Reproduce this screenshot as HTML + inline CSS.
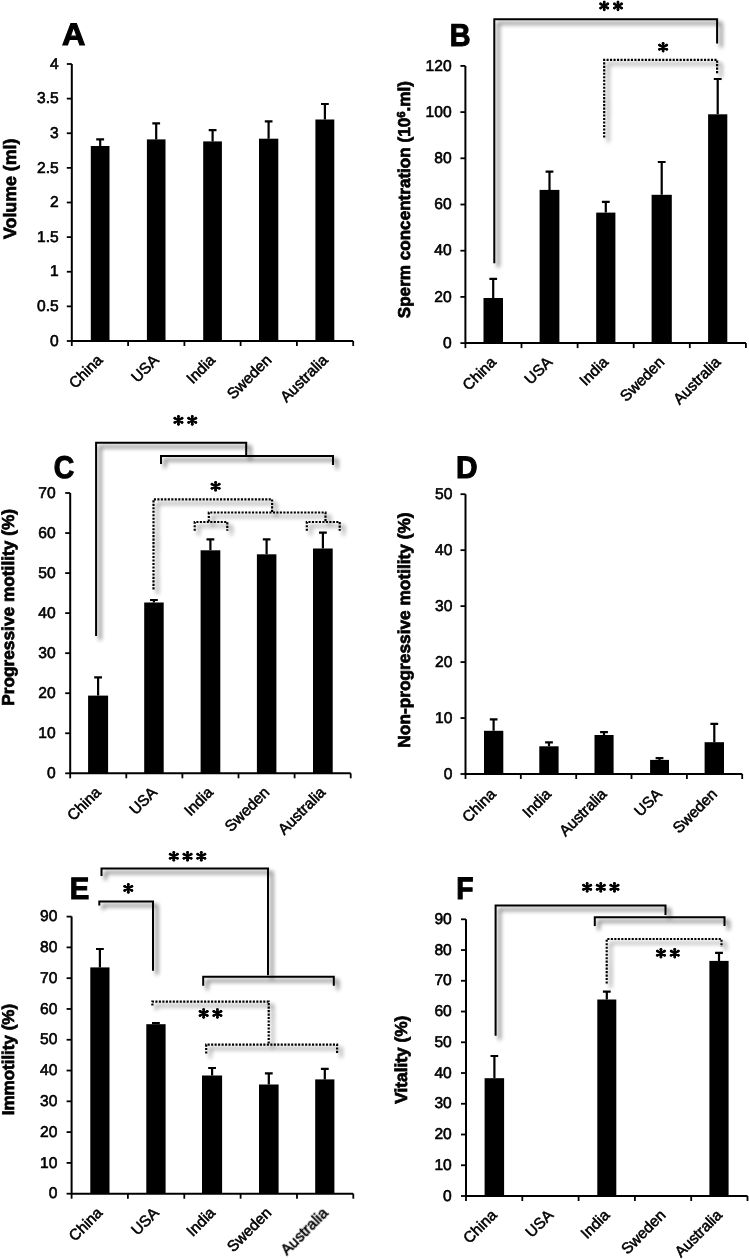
<!DOCTYPE html>
<html><head><meta charset="utf-8"><title>Semen parameters</title>
<style>
html,body{margin:0;padding:0;background:#fff;}
body{width:749px;height:1259px;overflow:hidden;}
svg{display:block;}
text{font-family:"Liberation Sans",sans-serif;fill:#000;text-rendering:geometricPrecision;}
.tl{font-size:15.6px;text-anchor:end;stroke:#000;stroke-width:0.6px;}
.cl{font-size:15.3px;text-anchor:end;stroke:#000;stroke-width:0.55px;}
.tt{font-size:17.3px;font-weight:bold;text-anchor:middle;stroke:#000;stroke-width:0.7px;}
.lt{font-size:31.2px;font-weight:bold;stroke:#000;stroke-width:1.1px;}
.ax{fill:none;stroke:#000;stroke-width:2.0;}
.tk{fill:none;stroke:#000;stroke-width:1.8;}
.bar{fill:#000;}
.eb{fill:none;stroke:#000;stroke-width:2.2;}
.bs{fill:none;stroke:#000;stroke-width:2.0;}
.bd{fill:none;stroke:#000;stroke-width:2.2;stroke-dasharray:2.1 1.38;}
.st{fill:none;stroke:#000;stroke-width:2.4;stroke-linecap:round;}
.sc{fill:#000;}
</style></head>
<body>
<svg width="749" height="1259" viewBox="0 0 749 1259">
<defs>
<filter id="sh" filterUnits="userSpaceOnUse" x="0" y="0" width="749" height="1259">
<feGaussianBlur in="SourceAlpha" stdDeviation="2.1" result="b"/>
<feOffset in="b" dx="3.8" dy="3.8" result="o"/>
<feComponentTransfer in="o" result="o2"><feFuncA type="linear" slope="0.68"/></feComponentTransfer>
<feMerge><feMergeNode in="o2"/><feMergeNode in="SourceGraphic"/></feMerge>
</filter>
<filter id="soft" x="0" y="0" width="100%" height="100%"><feGaussianBlur stdDeviation="0.35"/></filter>
</defs>
<g filter="url(#soft)">
<rect width="749" height="1259" fill="#fff"/>
<path d="M71.8,64 V341 H353.2" class="ax"/>
<path d="M66.8,341.0 H71.8" class="tk"/>
<text x="58.7" y="345.6" class="tl">0</text>
<path d="M66.8,306.375 H71.8" class="tk"/>
<text x="58.7" y="311.0" class="tl">0.5</text>
<path d="M66.8,271.75 H71.8" class="tk"/>
<text x="58.7" y="276.4" class="tl">1</text>
<path d="M66.8,237.125 H71.8" class="tk"/>
<text x="58.7" y="241.7" class="tl">1.5</text>
<path d="M66.8,202.5 H71.8" class="tk"/>
<text x="58.7" y="207.1" class="tl">2</text>
<path d="M66.8,167.875 H71.8" class="tk"/>
<text x="58.7" y="172.5" class="tl">2.5</text>
<path d="M66.8,133.25 H71.8" class="tk"/>
<text x="58.7" y="137.8" class="tl">3</text>
<path d="M66.8,98.625 H71.8" class="tk"/>
<text x="58.7" y="103.2" class="tl">3.5</text>
<path d="M66.8,64.0 H71.8" class="tk"/>
<text x="58.7" y="68.6" class="tl">4</text>
<path d="M71.8,341 V346" class="tk"/>
<path d="M128.1,341 V346" class="tk"/>
<path d="M184.4,341 V346" class="tk"/>
<path d="M240.6,341 V346" class="tk"/>
<path d="M296.9,341 V346" class="tk"/>
<path d="M353.2,341 V346" class="tk"/>
<rect x="90.8" y="146" width="18.7" height="195.0" class="bar"/>
<path d="M100.2,146 V139.4 M96.2,139.4 H104.1" class="eb"/>
<rect x="146.9" y="139.4" width="18.6" height="201.6" class="bar"/>
<path d="M156.2,139.4 V123.4 M152.3,123.4 H160.1" class="eb"/>
<rect x="203.2" y="141.4" width="18.7" height="199.6" class="bar"/>
<path d="M212.6,141.4 V130.2 M208.7,130.2 H216.5" class="eb"/>
<rect x="259" y="138.7" width="19.3" height="202.3" class="bar"/>
<path d="M268.6,138.7 V121.4 M264.8,121.4 H272.5" class="eb"/>
<rect x="315.4" y="119.5" width="18.9" height="221.5" class="bar"/>
<path d="M324.9,119.5 V104 M321.0,104 H328.8" class="eb"/>
<text x="103.5" y="361.0" class="cl" transform="rotate(-45 103.5 361.0)">China</text>
<text x="159.8" y="361.0" class="cl" transform="rotate(-45 159.8 361.0)">USA</text>
<text x="216.1" y="361.0" class="cl" transform="rotate(-45 216.1 361.0)">India</text>
<text x="272.4" y="361.0" class="cl" transform="rotate(-45 272.4 361.0)">Sweden</text>
<text x="328.7" y="361.0" class="cl" transform="rotate(-45 328.7 361.0)">Australia</text>
<text x="15.9" y="188.8" class="tt" style="font-size:17.8px" transform="rotate(-90 15.9 188.8)">Volume (ml)</text>
<text x="0" y="0" class="lt" style="font-size:31.16px;stroke-width:1.1px" transform="translate(62.06 45.35) scale(1.037 1)">A</text>
<path d="M465.4,65.9 V343.1 H745.9" class="ax"/>
<path d="M460.4,343.1 H465.4" class="tk"/>
<text x="451.6" y="347.7" class="tl">0</text>
<path d="M460.4,296.90000000000003 H465.4" class="tk"/>
<text x="451.6" y="301.5" class="tl">20</text>
<path d="M460.4,250.70000000000002 H465.4" class="tk"/>
<text x="451.6" y="255.3" class="tl">40</text>
<path d="M460.4,204.5 H465.4" class="tk"/>
<text x="451.6" y="209.1" class="tl">60</text>
<path d="M460.4,158.3 H465.4" class="tk"/>
<text x="451.6" y="162.9" class="tl">80</text>
<path d="M460.4,112.09999999999997 H465.4" class="tk"/>
<text x="451.6" y="116.7" class="tl">100</text>
<path d="M460.4,65.89999999999998 H465.4" class="tk"/>
<text x="451.6" y="70.5" class="tl">120</text>
<path d="M465.4,343.1 V348.1" class="tk"/>
<path d="M521.5,343.1 V348.1" class="tk"/>
<path d="M577.6,343.1 V348.1" class="tk"/>
<path d="M633.7,343.1 V348.1" class="tk"/>
<path d="M689.8,343.1 V348.1" class="tk"/>
<path d="M745.9,343.1 V348.1" class="tk"/>
<rect x="483.5" y="298" width="19.5" height="45.1" class="bar"/>
<path d="M493.2,298 V278.8 M489.4,278.8 H497.1" class="eb"/>
<rect x="539.6" y="189.9" width="19.8" height="153.2" class="bar"/>
<path d="M549.5,189.9 V171.7 M545.6,171.7 H553.4" class="eb"/>
<rect x="596.2" y="212.6" width="19.2" height="130.5" class="bar"/>
<path d="M605.8,212.6 V201.9 M601.9,201.9 H609.7" class="eb"/>
<rect x="651.6" y="194.8" width="20.2" height="148.3" class="bar"/>
<path d="M661.7,194.8 V162 M657.8,162 H665.6" class="eb"/>
<rect x="708.1" y="114.3" width="19.2" height="228.8" class="bar"/>
<path d="M717.7,114.3 V79 M713.8,79 H721.6" class="eb"/>
<text x="497.1" y="363.1" class="cl" transform="rotate(-45 497.1 363.1)">China</text>
<text x="553.1" y="363.1" class="cl" transform="rotate(-45 553.1 363.1)">USA</text>
<text x="609.2" y="363.1" class="cl" transform="rotate(-45 609.2 363.1)">India</text>
<text x="665.4" y="363.1" class="cl" transform="rotate(-45 665.4 363.1)">Sweden</text>
<text x="721.5" y="363.1" class="cl" transform="rotate(-45 721.5 363.1)">Australia</text>
<text x="410.4" y="199.6" class="tt" style="font-size:17.1px" transform="rotate(-90 410.4 199.6)">Sperm concentration (10<tspan dy="-5.6" style="font-size:11.5px">6</tspan><tspan dy="5.6">.ml)</tspan></text>
<text x="0" y="0" class="lt" style="font-size:31.45px;stroke-width:1.1px" transform="translate(449.63 45.55) scale(0.917 1)">B</text>
<path d="M494.3,263.3 V19.2 H717.1 V43.6" class="bs" filter="url(#sh)"/>
<path d="M604.2,137.5 V59.8 H717.1 V73.2" class="bd" filter="url(#sh)"/>
<path d="M604.20,2.05 V9.85 M600.60,3.87 L607.80,8.03 M607.80,3.87 L600.60,8.03 " class="st"/>
<circle cx="604.20" cy="2.05" r="1.4" class="sc"/>
<circle cx="604.20" cy="9.85" r="1.4" class="sc"/>
<circle cx="607.80" cy="8.03" r="1.4" class="sc"/>
<circle cx="600.60" cy="8.03" r="1.4" class="sc"/>
<circle cx="600.60" cy="3.87" r="1.4" class="sc"/>
<circle cx="607.80" cy="3.87" r="1.4" class="sc"/>
<path d="M618.00,2.05 V9.85 M614.40,3.87 L621.60,8.03 M621.60,3.87 L614.40,8.03 " class="st"/>
<circle cx="618.00" cy="2.05" r="1.4" class="sc"/>
<circle cx="618.00" cy="9.85" r="1.4" class="sc"/>
<circle cx="621.60" cy="8.03" r="1.4" class="sc"/>
<circle cx="614.40" cy="8.03" r="1.4" class="sc"/>
<circle cx="614.40" cy="3.87" r="1.4" class="sc"/>
<circle cx="621.60" cy="3.87" r="1.4" class="sc"/>
<path d="M663.10,43.30 V51.10 M659.50,45.12 L666.70,49.28 M666.70,45.12 L659.50,49.28 " class="st"/>
<circle cx="663.10" cy="43.30" r="1.4" class="sc"/>
<circle cx="663.10" cy="51.10" r="1.4" class="sc"/>
<circle cx="666.70" cy="49.28" r="1.4" class="sc"/>
<circle cx="659.50" cy="49.28" r="1.4" class="sc"/>
<circle cx="659.50" cy="45.12" r="1.4" class="sc"/>
<circle cx="666.70" cy="45.12" r="1.4" class="sc"/>
<path d="M70.2,493 V773.3 H350.7" class="ax"/>
<path d="M65.2,773.3 H70.2" class="tk"/>
<text x="55.6" y="777.9" class="tl">0</text>
<path d="M65.2,733.2571428571429 H70.2" class="tk"/>
<text x="55.6" y="737.9" class="tl">10</text>
<path d="M65.2,693.2142857142857 H70.2" class="tk"/>
<text x="55.6" y="697.8" class="tl">20</text>
<path d="M65.2,653.1714285714286 H70.2" class="tk"/>
<text x="55.6" y="657.8" class="tl">30</text>
<path d="M65.2,613.1285714285714 H70.2" class="tk"/>
<text x="55.6" y="617.7" class="tl">40</text>
<path d="M65.2,573.0857142857143 H70.2" class="tk"/>
<text x="55.6" y="577.7" class="tl">50</text>
<path d="M65.2,533.0428571428572 H70.2" class="tk"/>
<text x="55.6" y="537.6" class="tl">60</text>
<path d="M65.2,493.0 H70.2" class="tk"/>
<text x="55.6" y="497.6" class="tl">70</text>
<path d="M70.2,773.3 V778.3" class="tk"/>
<path d="M126.3,773.3 V778.3" class="tk"/>
<path d="M182.4,773.3 V778.3" class="tk"/>
<path d="M238.5,773.3 V778.3" class="tk"/>
<path d="M294.6,773.3 V778.3" class="tk"/>
<path d="M350.7,773.3 V778.3" class="tk"/>
<rect x="88.1" y="695.6" width="20.0" height="77.7" class="bar"/>
<path d="M98.1,695.6 V677.4 M94.2,677.4 H102.0" class="eb"/>
<rect x="144.2" y="602.5" width="19.5" height="170.8" class="bar"/>
<path d="M153.9,602.5 V600 M150.0,600 H157.8" class="eb"/>
<rect x="200.6" y="550.3" width="19.7" height="223.0" class="bar"/>
<path d="M210.4,550.3 V539.4 M206.5,539.4 H214.3" class="eb"/>
<rect x="256.9" y="554.3" width="19.5" height="219.0" class="bar"/>
<path d="M266.6,554.3 V539.4 M262.8,539.4 H270.5" class="eb"/>
<rect x="313" y="548.5" width="19.7" height="224.8" class="bar"/>
<path d="M322.9,548.5 V532.7 M319.0,532.7 H326.8" class="eb"/>
<text x="101.8" y="793.3" class="cl" transform="rotate(-45 101.8 793.3)">China</text>
<text x="158.0" y="793.3" class="cl" transform="rotate(-45 158.0 793.3)">USA</text>
<text x="214.0" y="793.3" class="cl" transform="rotate(-45 214.0 793.3)">India</text>
<text x="270.2" y="793.3" class="cl" transform="rotate(-45 270.2 793.3)">Sweden</text>
<text x="326.3" y="793.3" class="cl" transform="rotate(-45 326.3 793.3)">Australia</text>
<text x="14.3" y="607.4" class="tt" transform="rotate(-90 14.3 607.4)">Progressive motility (%)</text>
<text x="0" y="0" class="lt" style="font-size:31.41px;stroke-width:1.1px" transform="translate(53.76 477.94) scale(0.904 1)">C</text>
<path d="M96.1,636 V442.7 H246.2 V456" class="bs" filter="url(#sh)"/>
<path d="M161,464 V456 H333 V465" class="bs" filter="url(#sh)"/>
<path d="M153.5,589.4 V499.3 H272.1 V512.5" class="bd" filter="url(#sh)"/>
<path d="M208.8,521.5 V512.5 H325.5 V521.5" class="bd" filter="url(#sh)"/>
<path d="M194.7,530.8 V522 H227.3 V530.8" class="bd" filter="url(#sh)"/>
<path d="M306.8,530.8 V522 H339.7 V530.8" class="bd" filter="url(#sh)"/>
<path d="M178.45,416.45 V424.25 M174.85,418.27 L182.05,422.43 M182.05,418.27 L174.85,422.43 " class="st"/>
<circle cx="178.45" cy="416.45" r="1.4" class="sc"/>
<circle cx="178.45" cy="424.25" r="1.4" class="sc"/>
<circle cx="182.05" cy="422.43" r="1.4" class="sc"/>
<circle cx="174.85" cy="422.43" r="1.4" class="sc"/>
<circle cx="174.85" cy="418.27" r="1.4" class="sc"/>
<circle cx="182.05" cy="418.27" r="1.4" class="sc"/>
<path d="M192.25,416.45 V424.25 M188.65,418.27 L195.85,422.43 M195.85,418.27 L188.65,422.43 " class="st"/>
<circle cx="192.25" cy="416.45" r="1.4" class="sc"/>
<circle cx="192.25" cy="424.25" r="1.4" class="sc"/>
<circle cx="195.85" cy="422.43" r="1.4" class="sc"/>
<circle cx="188.65" cy="422.43" r="1.4" class="sc"/>
<circle cx="188.65" cy="418.27" r="1.4" class="sc"/>
<circle cx="195.85" cy="418.27" r="1.4" class="sc"/>
<path d="M215.60,482.35 V490.15 M212.00,484.17 L219.20,488.33 M219.20,484.17 L212.00,488.33 " class="st"/>
<circle cx="215.60" cy="482.35" r="1.4" class="sc"/>
<circle cx="215.60" cy="490.15" r="1.4" class="sc"/>
<circle cx="219.20" cy="488.33" r="1.4" class="sc"/>
<circle cx="212.00" cy="488.33" r="1.4" class="sc"/>
<circle cx="212.00" cy="484.17" r="1.4" class="sc"/>
<circle cx="219.20" cy="484.17" r="1.4" class="sc"/>
<path d="M465.5,494.2 V774 H742.2" class="ax"/>
<path d="M460.5,774.0 H465.5" class="tk"/>
<text x="452.4" y="778.6" class="tl">0</text>
<path d="M460.5,718.04 H465.5" class="tk"/>
<text x="452.4" y="722.6" class="tl">10</text>
<path d="M460.5,662.0799999999999 H465.5" class="tk"/>
<text x="452.4" y="666.7" class="tl">20</text>
<path d="M460.5,606.12 H465.5" class="tk"/>
<text x="452.4" y="610.7" class="tl">30</text>
<path d="M460.5,550.16 H465.5" class="tk"/>
<text x="452.4" y="554.8" class="tl">40</text>
<path d="M460.5,494.2 H465.5" class="tk"/>
<text x="452.4" y="498.8" class="tl">50</text>
<path d="M465.5,774 V779" class="tk"/>
<path d="M520.8,774 V779" class="tk"/>
<path d="M576.2,774 V779" class="tk"/>
<path d="M631.5,774 V779" class="tk"/>
<path d="M686.9,774 V779" class="tk"/>
<path d="M742.2,774 V779" class="tk"/>
<rect x="484" y="730.8" width="19.3" height="43.2" class="bar"/>
<path d="M493.6,730.8 V719.3 M489.8,719.3 H497.5" class="eb"/>
<rect x="539.3" y="746.3" width="19.3" height="27.7" class="bar"/>
<path d="M549.0,746.3 V742.3 M545.1,742.3 H552.9" class="eb"/>
<rect x="594.5" y="735" width="19.1" height="39.0" class="bar"/>
<path d="M604.0,735 V732.1 M600.1,732.1 H607.9" class="eb"/>
<rect x="650.1" y="759.9" width="18.9" height="14.1" class="bar"/>
<path d="M659.5,759.9 V758.1 M655.6,758.1 H663.4" class="eb"/>
<rect x="704.6" y="742.2" width="19.4" height="31.8" class="bar"/>
<path d="M714.3,742.2 V723.8 M710.4,723.8 H718.2" class="eb"/>
<text x="496.8" y="795.0" class="cl" transform="rotate(-45 496.8 795.0)">China</text>
<text x="552.1" y="795.0" class="cl" transform="rotate(-45 552.1 795.0)">India</text>
<text x="607.5" y="795.0" class="cl" transform="rotate(-45 607.5 795.0)">Australia</text>
<text x="662.8" y="795.0" class="cl" transform="rotate(-45 662.8 795.0)">USA</text>
<text x="718.1" y="795.0" class="cl" transform="rotate(-45 718.1 795.0)">Sweden</text>
<text x="409.5" y="630" class="tt" transform="rotate(-90 409.5 630)">Non-progressive motility (%)</text>
<text x="0" y="0" class="lt" style="font-size:31.01px;stroke-width:1.1px" transform="translate(455.89 477.95) scale(0.962 1)">D</text>
<path d="M71.6,916.6 V1193.7 H353.3" class="ax"/>
<path d="M66.6,1193.7 H71.6" class="tk"/>
<text x="57.4" y="1198.3" class="tl">0</text>
<path d="M66.6,1162.911111111111 H71.6" class="tk"/>
<text x="57.4" y="1167.5" class="tl">10</text>
<path d="M66.6,1132.1222222222223 H71.6" class="tk"/>
<text x="57.4" y="1136.7" class="tl">20</text>
<path d="M66.6,1101.3333333333335 H71.6" class="tk"/>
<text x="57.4" y="1105.9" class="tl">30</text>
<path d="M66.6,1070.5444444444445 H71.6" class="tk"/>
<text x="57.4" y="1075.1" class="tl">40</text>
<path d="M66.6,1039.7555555555555 H71.6" class="tk"/>
<text x="57.4" y="1044.4" class="tl">50</text>
<path d="M66.6,1008.9666666666667 H71.6" class="tk"/>
<text x="57.4" y="1013.6" class="tl">60</text>
<path d="M66.6,978.1777777777778 H71.6" class="tk"/>
<text x="57.4" y="982.8" class="tl">70</text>
<path d="M66.6,947.3888888888889 H71.6" class="tk"/>
<text x="57.4" y="952.0" class="tl">80</text>
<path d="M66.6,916.6 H71.6" class="tk"/>
<text x="57.4" y="921.2" class="tl">90</text>
<path d="M71.6,1193.7 V1198.7" class="tk"/>
<path d="M127.9,1193.7 V1198.7" class="tk"/>
<path d="M184.3,1193.7 V1198.7" class="tk"/>
<path d="M240.6,1193.7 V1198.7" class="tk"/>
<path d="M297.0,1193.7 V1198.7" class="tk"/>
<path d="M353.3,1193.7 V1198.7" class="tk"/>
<rect x="90.3" y="967.4" width="19.2" height="226.3" class="bar"/>
<path d="M99.9,967.4 V949 M96.0,949 H103.8" class="eb"/>
<rect x="146.3" y="1024.2" width="19.3" height="169.5" class="bar"/>
<path d="M155.9,1024.2 V1023.2 M152.0,1023.2 H159.8" class="eb"/>
<rect x="202" y="1075.5" width="20.1" height="118.2" class="bar"/>
<path d="M212.1,1075.5 V1068 M208.2,1068 H216.0" class="eb"/>
<rect x="259" y="1084.5" width="19.6" height="109.2" class="bar"/>
<path d="M268.8,1084.5 V1073.4 M264.9,1073.4 H272.7" class="eb"/>
<rect x="315.2" y="1079.4" width="19.2" height="114.3" class="bar"/>
<path d="M324.8,1079.4 V1068.9 M320.9,1068.9 H328.7" class="eb"/>
<text x="103.4" y="1213.7" class="cl" transform="rotate(-45 103.4 1213.7)">China</text>
<text x="159.7" y="1213.7" class="cl" transform="rotate(-45 159.7 1213.7)">USA</text>
<text x="216.1" y="1213.7" class="cl" transform="rotate(-45 216.1 1213.7)">India</text>
<text x="272.4" y="1213.7" class="cl" transform="rotate(-45 272.4 1213.7)">Sweden</text>
<text x="328.7" y="1213.7" class="cl" transform="rotate(-45 328.7 1213.7)">Australia</text>
<text x="14.1" y="1059.6" class="tt" style="font-size:17.0px" transform="rotate(-90 14.1 1059.6)">Immotility (%)</text>
<text x="0" y="0" class="lt" style="font-size:30.72px;stroke-width:1.1px" transform="translate(69.82 898.75) scale(0.953 1)">E</text>
<path d="M101.5,876 V868.5 H268 V975.2" class="bs" filter="url(#sh)"/>
<path d="M203.2,985.7 V976.7 H333.8 V985.7" class="bs" filter="url(#sh)"/>
<path d="M99.3,905.4 V901.4 H153 V970.8" class="bs" filter="url(#sh)"/>
<path d="M152.4,1005.6 V1001.6 H268.7 V1044.6" class="bd" filter="url(#sh)"/>
<path d="M206.2,1053.6 V1044.6 H337.1 V1053.6" class="bd" filter="url(#sh)"/>
<path d="M173.80,852.35 V860.15 M170.20,854.17 L177.40,858.33 M177.40,854.17 L170.20,858.33 " class="st"/>
<circle cx="173.80" cy="852.35" r="1.4" class="sc"/>
<circle cx="173.80" cy="860.15" r="1.4" class="sc"/>
<circle cx="177.40" cy="858.33" r="1.4" class="sc"/>
<circle cx="170.20" cy="858.33" r="1.4" class="sc"/>
<circle cx="170.20" cy="854.17" r="1.4" class="sc"/>
<circle cx="177.40" cy="854.17" r="1.4" class="sc"/>
<path d="M187.55,852.35 V860.15 M183.95,854.17 L191.15,858.33 M191.15,854.17 L183.95,858.33 " class="st"/>
<circle cx="187.55" cy="852.35" r="1.4" class="sc"/>
<circle cx="187.55" cy="860.15" r="1.4" class="sc"/>
<circle cx="191.15" cy="858.33" r="1.4" class="sc"/>
<circle cx="183.95" cy="858.33" r="1.4" class="sc"/>
<circle cx="183.95" cy="854.17" r="1.4" class="sc"/>
<circle cx="191.15" cy="854.17" r="1.4" class="sc"/>
<path d="M201.30,852.35 V860.15 M197.70,854.17 L204.90,858.33 M204.90,854.17 L197.70,858.33 " class="st"/>
<circle cx="201.30" cy="852.35" r="1.4" class="sc"/>
<circle cx="201.30" cy="860.15" r="1.4" class="sc"/>
<circle cx="204.90" cy="858.33" r="1.4" class="sc"/>
<circle cx="197.70" cy="858.33" r="1.4" class="sc"/>
<circle cx="197.70" cy="854.17" r="1.4" class="sc"/>
<circle cx="204.90" cy="854.17" r="1.4" class="sc"/>
<path d="M128.30,884.50 V892.30 M124.70,886.32 L131.90,890.48 M131.90,886.32 L124.70,890.48 " class="st"/>
<circle cx="128.30" cy="884.50" r="1.4" class="sc"/>
<circle cx="128.30" cy="892.30" r="1.4" class="sc"/>
<circle cx="131.90" cy="890.48" r="1.4" class="sc"/>
<circle cx="124.70" cy="890.48" r="1.4" class="sc"/>
<circle cx="124.70" cy="886.32" r="1.4" class="sc"/>
<circle cx="131.90" cy="886.32" r="1.4" class="sc"/>
<path d="M203.65,1009.55 V1017.35 M200.05,1011.37 L207.25,1015.53 M207.25,1011.37 L200.05,1015.53 " class="st"/>
<circle cx="203.65" cy="1009.55" r="1.4" class="sc"/>
<circle cx="203.65" cy="1017.35" r="1.4" class="sc"/>
<circle cx="207.25" cy="1015.53" r="1.4" class="sc"/>
<circle cx="200.05" cy="1015.53" r="1.4" class="sc"/>
<circle cx="200.05" cy="1011.37" r="1.4" class="sc"/>
<circle cx="207.25" cy="1011.37" r="1.4" class="sc"/>
<path d="M217.40,1009.55 V1017.35 M213.80,1011.37 L221.00,1015.53 M221.00,1011.37 L213.80,1015.53 " class="st"/>
<circle cx="217.40" cy="1009.55" r="1.4" class="sc"/>
<circle cx="217.40" cy="1017.35" r="1.4" class="sc"/>
<circle cx="221.00" cy="1015.53" r="1.4" class="sc"/>
<circle cx="213.80" cy="1015.53" r="1.4" class="sc"/>
<circle cx="213.80" cy="1011.37" r="1.4" class="sc"/>
<circle cx="221.00" cy="1011.37" r="1.4" class="sc"/>
<path d="M466,919.3 V1196.0 H747.5" class="ax"/>
<path d="M461,1196.0 H466" class="tk"/>
<text x="451.8" y="1200.6" class="tl">0</text>
<path d="M461,1165.2555555555555 H466" class="tk"/>
<text x="451.8" y="1169.9" class="tl">10</text>
<path d="M461,1134.5111111111112 H466" class="tk"/>
<text x="451.8" y="1139.1" class="tl">20</text>
<path d="M461,1103.7666666666667 H466" class="tk"/>
<text x="451.8" y="1108.4" class="tl">30</text>
<path d="M461,1073.0222222222221 H466" class="tk"/>
<text x="451.8" y="1077.6" class="tl">40</text>
<path d="M461,1042.2777777777778 H466" class="tk"/>
<text x="451.8" y="1046.9" class="tl">50</text>
<path d="M461,1011.5333333333333 H466" class="tk"/>
<text x="451.8" y="1016.1" class="tl">60</text>
<path d="M461,980.7888888888889 H466" class="tk"/>
<text x="451.8" y="985.4" class="tl">70</text>
<path d="M461,950.0444444444445 H466" class="tk"/>
<text x="451.8" y="954.6" class="tl">80</text>
<path d="M461,919.3 H466" class="tk"/>
<text x="451.8" y="923.9" class="tl">90</text>
<path d="M466.0,1196.0 V1201.0" class="tk"/>
<path d="M522.3,1196.0 V1201.0" class="tk"/>
<path d="M578.6,1196.0 V1201.0" class="tk"/>
<path d="M634.9,1196.0 V1201.0" class="tk"/>
<path d="M691.2,1196.0 V1201.0" class="tk"/>
<path d="M747.5,1196.0 V1201.0" class="tk"/>
<rect x="484.6" y="1078.2" width="19.5" height="117.8" class="bar"/>
<path d="M494.4,1078.2 V1056 M490.5,1056 H498.2" class="eb"/>
<rect x="597.3" y="999.5" width="19.0" height="196.5" class="bar"/>
<path d="M606.8,999.5 V991.7 M602.9,991.7 H610.7" class="eb"/>
<rect x="709.4" y="960.9" width="19.2" height="235.1" class="bar"/>
<path d="M719.0,960.9 V952.9 M715.1,952.9 H722.9" class="eb"/>
<text x="497.8" y="1216.0" class="cl" transform="rotate(-45 497.8 1216.0)">China</text>
<text x="554.1" y="1216.0" class="cl" transform="rotate(-45 554.1 1216.0)">USA</text>
<text x="610.4" y="1216.0" class="cl" transform="rotate(-45 610.4 1216.0)">India</text>
<text x="666.6" y="1216.0" class="cl" transform="rotate(-45 666.6 1216.0)">Sweden</text>
<text x="723.0" y="1216.0" class="cl" transform="rotate(-45 723.0 1216.0)">Australia</text>
<text x="407" y="1059.7" class="tt" transform="rotate(-90 407 1059.7)">Vitality (%)</text>
<text x="0" y="0" class="lt" style="font-size:31.01px;stroke-width:1.1px" transform="translate(456.17 898.95) scale(0.910 1)">F</text>
<path d="M495.6,1035.7 V905.4 H665.5 V915" class="bs" filter="url(#sh)"/>
<path d="M594.8,926.1 V917.3 H724.5 V926.1" class="bs" filter="url(#sh)"/>
<path d="M606.7,983.6 V939 H721.5 V947" class="bd" filter="url(#sh)"/>
<path d="M587.15,883.40 V891.20 M583.55,885.22 L590.75,889.38 M590.75,885.22 L583.55,889.38 " class="st"/>
<circle cx="587.15" cy="883.40" r="1.4" class="sc"/>
<circle cx="587.15" cy="891.20" r="1.4" class="sc"/>
<circle cx="590.75" cy="889.38" r="1.4" class="sc"/>
<circle cx="583.55" cy="889.38" r="1.4" class="sc"/>
<circle cx="583.55" cy="885.22" r="1.4" class="sc"/>
<circle cx="590.75" cy="885.22" r="1.4" class="sc"/>
<path d="M600.80,883.40 V891.20 M597.20,885.22 L604.40,889.38 M604.40,885.22 L597.20,889.38 " class="st"/>
<circle cx="600.80" cy="883.40" r="1.4" class="sc"/>
<circle cx="600.80" cy="891.20" r="1.4" class="sc"/>
<circle cx="604.40" cy="889.38" r="1.4" class="sc"/>
<circle cx="597.20" cy="889.38" r="1.4" class="sc"/>
<circle cx="597.20" cy="885.22" r="1.4" class="sc"/>
<circle cx="604.40" cy="885.22" r="1.4" class="sc"/>
<path d="M614.45,883.40 V891.20 M610.85,885.22 L618.05,889.38 M618.05,885.22 L610.85,889.38 " class="st"/>
<circle cx="614.45" cy="883.40" r="1.4" class="sc"/>
<circle cx="614.45" cy="891.20" r="1.4" class="sc"/>
<circle cx="618.05" cy="889.38" r="1.4" class="sc"/>
<circle cx="610.85" cy="889.38" r="1.4" class="sc"/>
<circle cx="610.85" cy="885.22" r="1.4" class="sc"/>
<circle cx="618.05" cy="885.22" r="1.4" class="sc"/>
<path d="M660.95,949.30 V957.10 M657.35,951.12 L664.55,955.28 M664.55,951.12 L657.35,955.28 " class="st"/>
<circle cx="660.95" cy="949.30" r="1.4" class="sc"/>
<circle cx="660.95" cy="957.10" r="1.4" class="sc"/>
<circle cx="664.55" cy="955.28" r="1.4" class="sc"/>
<circle cx="657.35" cy="955.28" r="1.4" class="sc"/>
<circle cx="657.35" cy="951.12" r="1.4" class="sc"/>
<circle cx="664.55" cy="951.12" r="1.4" class="sc"/>
<path d="M674.75,949.30 V957.10 M671.15,951.12 L678.35,955.28 M678.35,951.12 L671.15,955.28 " class="st"/>
<circle cx="674.75" cy="949.30" r="1.4" class="sc"/>
<circle cx="674.75" cy="957.10" r="1.4" class="sc"/>
<circle cx="678.35" cy="955.28" r="1.4" class="sc"/>
<circle cx="671.15" cy="955.28" r="1.4" class="sc"/>
<circle cx="671.15" cy="951.12" r="1.4" class="sc"/>
<circle cx="678.35" cy="951.12" r="1.4" class="sc"/>
</g>
</svg>
</body></html>
